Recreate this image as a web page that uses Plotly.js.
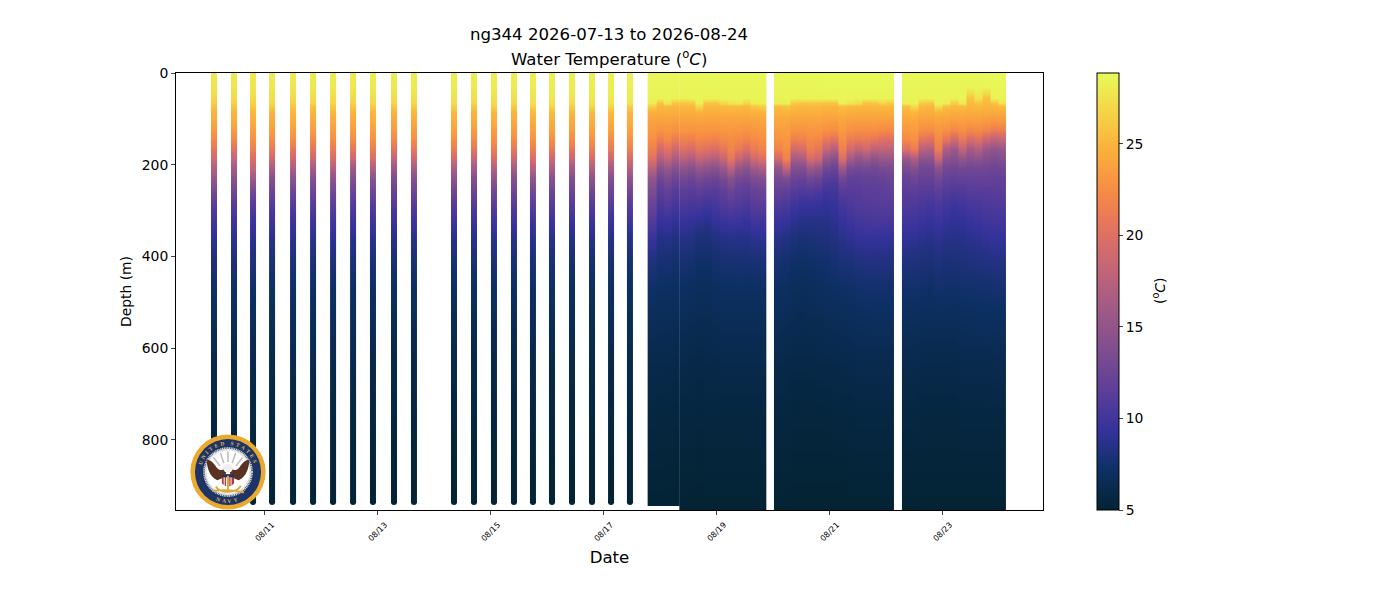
<!DOCTYPE html>
<html>
<head>
<meta charset="utf-8">
<script src="https://cdn.plot.ly/plotly-3.0.1.min.js"></script>
<style>html,body{margin:0;padding:0;background:#fff}#chart{width:1400px;height:600px}</style>
</head>
<body>
<div id="chart"></div>
<script>
const titleLine1 = "ng344 2026-07-13 to 2026-08-24";
const titleLine2 = "Water Temperature (<sup>o</sup><i>C</i>)";
const colorbarTitle = "(<sup>o</sup><i>C</i>)";
const thermal = ["rgb(3,35,51)","rgb(13,48,100)","rgb(53,50,155)","rgb(93,62,153)","rgb(126,77,143)","rgb(158,89,135)","rgb(193,100,121)","rgb(225,113,97)","rgb(246,139,69)","rgb(251,173,60)","rgb(246,211,70)","rgb(231,250,90)"];

const depthsUpper = [0,30,55,65,72,85,105,125,145,165,185,205,230,255,285,320,360,410,470,540,630,740,860];
const sparseEnd = [930,936];
const shallowEnd = [930,940];
const deepEnd = [940,950];

const sparseTimes = ["2026-08-10 02:20","2026-08-10 10:50","2026-08-10 18:55","2026-08-11 03:00","2026-08-11 11:55","2026-08-11 20:25","2026-08-12 04:55","2026-08-12 13:25","2026-08-12 21:52","2026-08-13 06:48","2026-08-13 15:17","2026-08-14 08:17","2026-08-14 16:47","2026-08-15 01:16","2026-08-15 09:46","2026-08-15 17:50","2026-08-16 01:55","2026-08-16 10:25","2026-08-16 18:55","2026-08-17 03:00","2026-08-17 11:02"];
const sparseTemps = [
[27.9,27.6,26.8,26.2,25.6,24.9,24.3,23.3,22.2,20.6,19.0,17.2,15.4,13.4,11.4,10.0,8.9,8.0,7.3,6.7,6.1,5.7,5.3,5.1,5.1],
[28.0,27.7,27.0,26.5,25.9,25.0,24.4,23.3,22.1,20.2,18.4,16.4,14.6,12.9,11.2,9.9,8.9,8.0,7.3,6.7,6.1,5.7,5.3,5.1,5.1],
[27.9,27.7,27.1,26.6,26.0,25.1,24.5,23.6,22.7,21.4,19.8,18.2,15.8,13.2,11.1,9.8,8.8,8.0,7.2,6.6,6.1,5.7,5.3,5.1,5.1],
[28.1,27.8,27.3,26.9,26.2,24.9,24.2,23.5,22.4,20.9,19.0,16.6,14.4,12.6,11.0,9.8,8.7,7.9,7.2,6.6,6.1,5.6,5.3,5.1,5.1],
[28.0,27.7,27.0,26.4,25.8,25.0,24.4,23.6,22.5,20.7,18.8,16.8,14.6,12.8,11.1,9.8,8.8,7.9,7.2,6.6,6.1,5.6,5.2,5.1,5.1],
[28.1,27.8,27.2,26.8,25.7,24.9,24.2,23.4,22.2,20.5,18.7,16.4,14.2,12.6,11.2,9.9,8.8,7.9,7.2,6.6,6.1,5.6,5.2,5.1,5.1],
[28.1,27.8,27.2,26.9,26.1,25.1,24.4,23.5,22.6,21.0,19.4,17.3,14.8,13.0,11.4,10.0,8.9,8.0,7.2,6.6,6.1,5.6,5.3,5.1,5.1],
[28.0,27.8,27.1,26.6,25.9,24.9,24.2,23.4,22.4,20.7,18.6,16.0,14.0,12.5,11.0,9.8,8.7,7.9,7.1,6.6,6.1,5.6,5.2,5.1,5.1],
[28.2,27.9,27.3,26.9,26.2,25.0,24.4,23.6,22.7,21.2,19.6,17.1,14.6,12.8,11.1,9.9,8.7,7.8,7.1,6.5,6.0,5.6,5.2,5.1,5.1],
[28.1,27.8,27.2,26.8,26.0,24.9,24.1,23.3,22.2,20.3,18.2,15.8,13.8,12.4,11.0,9.7,8.6,7.8,7.1,6.5,6.0,5.6,5.2,5.1,5.1],
[28.2,27.9,27.4,27.0,26.3,25.1,24.4,23.5,22.4,20.8,18.8,16.5,14.3,12.6,11.1,9.8,8.6,7.8,7.1,6.5,6.0,5.6,5.2,5.1,5.1],
[28.2,28.0,27.5,27.1,26.5,25.1,24.5,23.7,22.6,21.1,19.2,17.0,14.7,12.9,11.2,9.8,8.6,7.8,7.1,6.5,6.0,5.6,5.2,5.1,5.1],
[28.1,27.9,27.3,26.8,26.1,24.9,24.3,23.4,22.3,20.6,18.6,16.2,14.1,12.6,11.1,9.7,8.6,7.8,7.1,6.5,6.0,5.6,5.2,5.1,5.1],
[28.2,28.0,27.5,27.1,26.6,25.2,24.5,23.6,22.7,21.3,19.5,17.4,14.9,13.0,11.3,9.9,8.7,7.9,7.1,6.5,6.0,5.6,5.2,5.1,5.1],
[28.2,28.0,27.4,26.9,26.2,25.0,24.3,23.4,22.4,20.7,18.7,16.4,14.2,12.7,11.1,9.8,8.6,7.8,7.1,6.5,6.0,5.6,5.2,5.1,5.1],
[28.3,28.0,27.6,27.3,26.7,25.2,24.5,23.7,22.8,21.4,19.7,17.6,15.0,13.1,11.3,9.9,8.6,7.8,7.1,6.5,6.0,5.6,5.2,5.1,5.1],
[28.3,28.1,27.7,27.4,26.8,25.3,24.6,23.7,22.6,21.0,19.0,16.8,14.5,12.8,11.2,9.8,8.6,7.8,7.1,6.5,6.0,5.6,5.2,5.1,5.1],
[28.3,28.1,27.7,27.2,26.5,25.1,24.4,23.5,22.4,20.7,18.7,16.3,14.1,12.6,11.1,9.7,8.5,7.7,7.0,6.5,6.0,5.6,5.2,5.1,5.1],
[28.3,28.1,27.8,27.5,26.9,25.3,24.6,23.8,22.8,21.3,19.4,17.2,14.7,12.9,11.2,9.8,8.6,7.7,7.0,6.5,6.0,5.6,5.2,5.1,5.1],
[28.4,28.2,27.9,27.6,26.9,25.2,24.5,23.6,22.5,20.9,18.8,16.5,14.2,12.6,11.1,9.7,8.5,7.7,7.0,6.5,6.0,5.6,5.2,5.1,5.1],
[28.4,28.3,28.0,27.7,26.5,25.1,24.6,23.8,22.8,21.4,19.6,17.4,14.8,12.9,11.2,9.8,8.5,7.7,7.0,6.5,6.0,5.6,5.2,5.1,5.1]
];

const blockATimes = ["2026-08-17 20:24","2026-08-17 23:44","2026-08-18 03:04","2026-08-18 06:24","2026-08-18 09:44","2026-08-18 13:04","2026-08-18 16:24","2026-08-18 19:44","2026-08-18 23:04","2026-08-19 02:24","2026-08-19 05:44","2026-08-19 09:04","2026-08-19 12:24","2026-08-19 15:44","2026-08-19 19:04"];
const blockATemps = [
[28.6,28.6,28.4,28.2,26.4,24.7,23.8,23.3,22.6,21.5,20.2,17.8,15.0,13.6,12.3,11.0,9.5,8.2,7.3,6.7,6.1,5.7,5.3,5.1,5.05],
[28.6,28.6,28.4,25.8,25.1,24.6,23.7,22.9,21.3,19.1,17.0,14.6,12.6,11.4,10.4,9.4,8.4,7.7,7.1,6.6,6.1,5.6,5.3,5.1,5.05],
[28.6,28.6,28.5,27.8,25.3,24.7,23.8,23.1,22.1,20.3,18.2,15.6,13.4,12.0,10.9,9.6,8.6,7.7,7.1,6.6,6.1,5.6,5.3,5.1,5.05],
[28.6,28.6,28.4,25.7,25.1,24.5,23.6,22.8,21.1,18.9,16.6,14.4,12.5,11.3,10.2,9.2,8.2,7.5,7.0,6.5,6.0,5.5,5.2,5.1,5.05],
[28.7,28.6,28.4,25.8,25.2,24.6,23.7,23.0,21.7,19.9,17.6,15.0,12.9,11.6,10.6,9.5,8.5,7.7,7.1,6.6,6.1,5.6,5.3,5.1,5.05],
[28.7,28.6,28.5,26.0,25.2,24.6,23.7,22.9,21.5,19.3,17.0,14.4,12.5,11.3,10.3,9.3,8.4,7.6,7.0,6.5,6.0,5.6,5.3,5.1,5.05],
[28.7,28.6,28.5,28.3,27.0,24.8,23.8,23.1,22.1,20.5,18.4,15.6,13.2,11.7,10.4,9.0,8.0,7.3,6.8,6.4,5.9,5.5,5.2,5.1,5.05],
[28.7,28.6,28.4,25.9,25.2,24.6,23.7,23.0,21.9,20.1,17.8,15.0,12.7,11.3,10.0,8.8,7.9,7.3,6.8,6.4,6.0,5.6,5.3,5.1,5.05],
[28.7,28.6,28.4,25.8,25.2,24.6,23.7,22.9,21.6,19.7,17.2,14.6,12.5,11.2,10.3,9.3,8.3,7.5,7.0,6.5,6.0,5.6,5.3,5.1,5.05],
[28.7,28.6,28.5,27.0,25.3,24.7,23.8,23.1,22.2,20.7,18.6,15.8,13.2,11.8,10.8,9.6,8.5,7.7,7.1,6.6,6.1,5.6,5.3,5.1,5.05],
[28.7,28.6,28.5,27.6,25.4,24.7,23.8,23.2,22.5,21.7,20.8,18.0,14.4,12.5,11.2,9.8,8.6,7.7,7.1,6.6,6.1,5.6,5.3,5.1,5.05],
[28.7,28.6,28.5,28.0,25.4,24.7,23.8,23.1,22.2,20.9,18.6,15.4,13.1,11.8,10.9,9.7,8.6,7.8,7.1,6.6,6.1,5.6,5.3,5.1,5.05],
[28.7,28.6,28.5,26.8,25.3,24.6,23.7,22.9,21.7,19.9,17.4,14.8,12.8,11.6,10.6,9.5,8.5,7.7,7.1,6.6,6.1,5.6,5.3,5.1,5.05],
[28.7,28.6,28.5,28.1,26.0,24.8,23.8,23.1,22.3,21.1,19.2,16.2,13.6,12.2,11.2,10.0,8.8,7.8,7.1,6.6,6.1,5.6,5.3,5.1,5.05],
[28.7,28.6,28.5,28.2,26.4,24.8,23.9,23.3,22.6,21.7,20.0,17.0,14.0,12.4,11.4,10.0,8.9,7.9,7.2,6.6,6.1,5.6,5.3,5.1,5.05]
];

const blockBTimes = ["2026-08-20 01:55","2026-08-20 05:19","2026-08-20 08:43","2026-08-20 12:07","2026-08-20 15:31","2026-08-20 18:55","2026-08-20 22:19","2026-08-21 01:43","2026-08-21 05:07","2026-08-21 08:31","2026-08-21 11:55","2026-08-21 15:19","2026-08-21 18:43","2026-08-21 22:07","2026-08-22 01:31"];
const blockBTemps = [
[28.7,28.6,28.4,28.2,25.5,24.8,24.0,23.5,22.8,21.7,19.2,15.4,13.2,12.0,10.8,9.6,8.6,7.7,7.1,6.6,6.1,5.6,5.3,5.1,5.05],
[28.7,28.6,28.5,28.3,25.8,24.9,24.1,23.6,23.1,22.5,21.8,18.4,13.6,11.8,10.6,9.4,8.3,7.5,7.0,6.5,6.0,5.6,5.3,5.1,5.05],
[28.7,28.6,28.4,26.2,25.3,24.7,23.8,22.9,21.5,19.1,16.4,14.0,12.4,11.2,9.9,8.9,8.0,7.3,6.8,6.4,5.9,5.5,5.2,5.1,5.05],
[28.7,28.6,28.4,25.8,25.2,24.6,23.7,22.9,21.7,19.5,16.8,14.0,12.2,10.8,9.5,8.6,7.8,7.2,6.7,6.3,5.9,5.5,5.2,5.1,5.05],
[28.7,28.6,28.5,25.9,25.3,24.7,23.8,23.1,22.3,21.3,19.6,15.8,12.9,11.0,9.5,8.6,7.9,7.3,6.8,6.4,5.9,5.5,5.2,5.1,5.05],
[28.7,28.7,28.5,25.9,25.3,24.7,23.8,23.1,22.1,20.7,18.8,15.2,12.4,10.7,9.4,8.6,8.0,7.4,6.9,6.4,6.0,5.5,5.2,5.1,5.05],
[28.8,28.7,28.5,25.8,25.1,24.5,23.6,22.7,20.9,18.3,15.4,13.0,11.2,10.0,9.2,8.6,8.1,7.5,7.0,6.5,6.0,5.5,5.2,5.1,5.05],
[28.8,28.7,28.5,25.8,25.1,24.5,23.5,22.5,20.3,17.1,14.4,12.4,11.0,10.1,9.4,8.9,8.3,7.7,7.1,6.6,6.0,5.6,5.2,5.1,5.05],
[28.8,28.7,28.6,28.4,25.5,24.8,23.9,23.3,22.5,21.5,20.0,16.0,12.8,11.2,10.2,9.4,8.7,7.9,7.2,6.6,6.1,5.6,5.2,5.1,5.05],
[28.8,28.7,28.5,27.8,25.3,24.6,23.6,22.7,21.3,19.1,16.2,13.4,11.8,11.1,10.6,9.8,8.9,8.0,7.3,6.7,6.1,5.6,5.3,5.1,5.05],
[28.8,28.7,28.5,27.4,25.2,24.5,23.5,22.5,20.9,18.1,15.0,13.0,11.8,11.2,10.9,10.2,9.2,8.2,7.4,6.8,6.2,5.7,5.3,5.1,5.05],
[28.8,28.7,28.5,25.8,25.1,24.5,23.5,22.5,21.1,18.9,15.8,13.2,12.0,11.4,11.0,10.3,9.3,8.3,7.5,6.8,6.2,5.7,5.3,5.1,5.05],
[28.8,28.7,28.5,25.9,25.2,24.5,23.6,22.6,20.7,17.7,14.8,13.0,12.0,11.5,11.1,10.4,9.4,8.3,7.5,6.9,6.2,5.7,5.3,5.1,5.05],
[28.8,28.7,28.5,26.8,25.2,24.5,23.5,22.3,20.1,17.9,15.6,13.4,12.2,11.6,11.2,10.4,9.3,8.3,7.5,6.9,6.2,5.7,5.3,5.1,5.05],
[28.8,28.7,28.5,26.2,25.2,24.5,23.4,22.1,19.9,17.7,15.6,13.6,12.4,11.8,11.2,10.4,9.2,8.2,7.4,6.8,6.2,5.7,5.3,5.1,5.05]
];

const blockCTimes = ["2026-08-22 08:17","2026-08-22 11:41","2026-08-22 15:05","2026-08-22 18:29","2026-08-22 21:53","2026-08-23 01:17","2026-08-23 04:41","2026-08-23 08:05","2026-08-23 11:29","2026-08-23 14:53","2026-08-23 18:17","2026-08-23 21:41","2026-08-24 01:05"];
const blockCTemps = [
[28.7,28.6,28.5,28.3,25.7,24.8,23.9,23.2,22.3,19.9,15.6,13.6,12.2,11.4,10.8,10.0,9.1,8.2,7.4,6.8,6.2,5.7,5.3,5.1,5.05],
[28.7,28.6,28.5,28.4,27.2,25.0,24.1,23.4,22.7,21.1,17.0,14.2,12.6,11.5,10.7,9.9,9.0,8.1,7.4,6.8,6.2,5.7,5.3,5.1,5.05],
[28.7,28.6,28.4,26.2,25.3,24.6,23.6,22.5,20.5,17.5,14.8,13.0,12.0,11.2,10.4,9.6,8.8,8.0,7.3,6.7,6.1,5.6,5.3,5.1,5.05],
[28.7,28.6,28.4,25.8,25.1,24.5,23.5,22.4,20.1,17.1,14.8,13.0,12.0,11.1,10.2,9.4,8.6,7.9,7.2,6.7,6.1,5.6,5.3,5.1,5.05],
[28.7,28.6,28.5,28.4,27.4,24.9,23.8,23.1,22.3,21.3,18.6,14.8,12.9,11.6,10.6,9.7,8.9,8.1,7.4,6.7,6.1,5.6,5.3,5.1,5.05],
[28.7,28.6,28.5,28.2,25.6,24.7,23.7,22.7,20.7,16.7,14.6,13.0,12.0,11.0,10.1,9.3,8.6,7.9,7.3,6.7,6.1,5.6,5.3,5.1,5.05],
[28.7,28.6,28.4,26.4,25.3,24.5,23.4,22.1,19.1,15.7,14.2,12.8,11.8,10.8,9.8,9.1,8.5,7.9,7.3,6.7,6.1,5.6,5.3,5.1,5.05],
[28.7,28.6,28.5,28.0,25.4,24.6,23.6,22.6,20.9,18.1,15.2,13.2,11.9,10.9,10.0,9.2,8.6,8.0,7.4,6.8,6.2,5.7,5.3,5.1,5.05],
[28.7,28.5,25.9,25.4,25.1,24.5,23.4,22.1,19.5,16.1,14.4,12.9,12.0,11.2,10.3,9.5,8.8,8.1,7.4,6.8,6.2,5.7,5.3,5.1,5.05],
[28.7,28.5,27.6,25.7,25.2,24.5,23.5,22.3,20.1,17.1,14.8,13.0,12.0,11.2,10.4,9.7,8.9,8.2,7.5,6.9,6.2,5.7,5.3,5.1,5.05],
[28.8,28.6,25.6,25.2,25.0,24.4,23.2,21.9,18.7,15.5,14.0,12.9,12.0,11.3,10.6,9.9,9.1,8.3,7.5,6.9,6.2,5.7,5.3,5.1,5.05],
[28.8,28.6,28.4,25.7,25.1,24.3,23.0,21.1,17.9,14.9,13.6,12.6,11.9,11.3,10.7,10.0,9.3,8.4,7.6,6.9,6.3,5.7,5.3,5.1,5.05],
[28.8,28.6,28.5,27.6,25.3,24.4,23.2,21.3,18.3,15.3,14.0,12.8,12.0,11.4,10.8,10.1,9.3,8.4,7.6,6.9,6.3,5.7,5.3,5.1,5.05]
];

const seal = `<svg xmlns="http://www.w3.org/2000/svg" xmlns:xlink="http://www.w3.org/1999/xlink" viewBox="0 0 200 200">
<circle cx="100" cy="100" r="99" fill="#eaa92f"/><circle cx="100" cy="100" r="87" fill="#1c3566"/>
<circle cx="100" cy="100" r="61" fill="#fff" stroke="#cfcfcf" stroke-width="9" stroke-dasharray="3 1.5"/>
<defs><path id="a" d="M29 100A71 71 0 0 1 171 100"/><path id="b" d="M19 100A81 81 0 0 0 181 100"/></defs>
<text font-family="Liberation Serif" font-weight="bold" font-size="14" fill="#e6b54a" letter-spacing="6"><textPath xlink:href="#a" href="#a" startOffset="50%" text-anchor="middle">UNITED    STATES</textPath></text>
<text font-family="Liberation Serif" font-weight="bold" font-size="14" fill="#e6b54a" letter-spacing="7"><textPath xlink:href="#b" href="#b" startOffset="50%" text-anchor="middle">NAVY</textPath></text>
<g stroke="#bdbdbd" stroke-width="4"><path d="M100 46V74M80 50L89 76M120 50L111 76M62 62L79 84M138 62L121 84"/></g>
<path d="M98 86C90 88 84 104 70 88C62 76 54 68 44 68C44 88 52 114 72 122L86 116L94 106Z" fill="#5a3222"/>
<path d="M102 86C110 88 116 104 130 88C138 76 146 68 156 68C156 88 148 114 128 122L114 116L106 106Z" fill="#5a3222"/>
<ellipse cx="100" cy="90" rx="13" ry="11" fill="#efefef"/>
<path d="M84 106H116V130Q100 146 84 130Z" fill="#b33a3a"/><path d="M84 106H116V114H84Z" fill="#1c3566"/><path d="M90 114V136M96 114V140M102 114V140M108 114V136" stroke="#fff" stroke-width="2.5"/>
<path d="M100 110V152M68 138Q76 152 100 152Q124 152 134 136M60 150Q100 144 142 154" fill="none" stroke="#d9a93c" stroke-width="5"/>
</svg>`;

const tColor = {colorscale: thermal.map((c, i) => [i / (thermal.length - 1), c]), zmin: 5, zmax: 28.87};
const HOUR = 3600000;
const plotW = 867, plotH = 437, plotL = 176, plotB = 510;

// Each profile is held flat across its own cell; the library smooths only with depth and across the thin seams.
function cellEdges(times, halfCell) {
  const inner = halfCell * 0.82;
  const outer = times.length === 1 ? halfCell / 2 : (halfCell - 0.5 * inner) / 1.5;
  const xs = [];
  times.forEach((t, i) => {
    const ms = new Date(t.replace(" ", "T") + "Z").getTime();
    const a = i === 0 ? outer : inner;
    const b = i === times.length - 1 ? outer : inner;
    xs.push(new Date(ms - a * HOUR).toISOString(), new Date(ms + b * HOUR).toISOString());
  });
  return xs;
}
function heatTrace(times, temps, depths, halfCell) {
  const xs = cellEdges(times, halfCell);
  const z = depths.map((_, d) => temps.flatMap(row => [row[d], row[d]]));
  return Object.assign({type: "heatmap", x: xs, y: depths, z: z, zsmooth: "best", showscale: false, hoverinfo: "skip"}, tColor);
}

const traces = [];
traces.push(heatTrace(blockATimes.slice(0, 4), blockATemps.slice(0, 4), depthsUpper.concat(shallowEnd), 1.85));
traces.push(heatTrace(blockATimes.slice(4), blockATemps.slice(4), depthsUpper.concat(deepEnd), 1.72));
sparseTimes.forEach((t, i) => {
  traces.push(heatTrace([t], [sparseTemps[i]], depthsUpper.concat(sparseEnd), 1.27));
});
traces.push(heatTrace(blockBTimes, blockBTemps, depthsUpper.concat(deepEnd), 1.7));
const last = heatTrace(blockCTimes, blockCTemps, depthsUpper.concat(deepEnd), 1.7);
last.showscale = true;
last.colorbar = {
  x: (1097 - plotL) / plotW, xanchor: "left", xpad: 0, ypad: 0, y: 0.5, yanchor: "middle", len: 1, thickness: 22,
  outlinewidth: 1, outlinecolor: "#000", tick0: 5, dtick: 5, ticks: "outside", ticklen: 4, tickwidth: 1,
  tickfont: {family: "DejaVu Sans", size: 13.9, color: "#000"}
};
traces.push(last);
traces.push({
  type: "scatter", mode: "markers", x: sparseTimes, y: sparseTimes.map(() => sparseEnd[1]),
  marker: {size: 6, color: sparseTemps.map(r => r[r.length - 1]), colorscale: tColor.colorscale, cmin: tColor.zmin, cmax: tColor.zmax},
  hoverinfo: "skip", showlegend: false
});

const layout = {
  width: 1400, height: 600, showlegend: false, paper_bgcolor: "#fff", plot_bgcolor: "#fff",
  margin: {l: plotL, r: 357, t: 73, b: 90, pad: 0},
  font: {family: "DejaVu Sans", color: "#000"},
  title: {text: titleLine1, xref: "container", yref: "container", x: 609 / 1400, xanchor: "center", y: 1 - 34 / 600, yanchor: "middle", font: {family: "DejaVu Sans", size: 16.6, color: "#000"}},
  annotations: [
    {text: titleLine2, xref: "paper", yref: "paper", x: (609 - plotL) / plotW, y: (plotB - 58) / plotH, xanchor: "center", yanchor: "middle", showarrow: false, font: {family: "DejaVu Sans", size: 16.6, color: "#000"}},
    {text: colorbarTitle, xref: "paper", yref: "paper", x: (1159 - plotL) / plotW, y: (plotB - 291) / plotH, xanchor: "center", yanchor: "middle", textangle: -90, showarrow: false, font: {family: "DejaVu Sans", size: 13.9, color: "#000"}}
  ],
  xaxis: {
    type: "date", range: ["2026-08-09 10:12", "2026-08-24 18:30"], tick0: "2026-08-11", dtick: 172800000, tickformat: "%m/%d",
    tickangle: -45, tickfont: {family: "DejaVu Sans", size: 8, color: "#000"}, ticks: "outside", ticklen: 4, tickwidth: 1,
    ticklabelshift: 7, ticklabelstandoff: 2,
    showgrid: false, zeroline: false, showline: true, linecolor: "#000", linewidth: 1, mirror: true,
    title: {text: "Date", standoff: 9, font: {family: "DejaVu Sans", size: 16.6, color: "#000"}}
  },
  yaxis: {
    range: [953.2, 0], tick0: 0, dtick: 200, tickfont: {family: "DejaVu Sans", size: 13.9, color: "#000"}, ticks: "outside", ticklen: 4, tickwidth: 1,
    showgrid: false, zeroline: false, showline: true, linecolor: "#000", linewidth: 1, mirror: true,
    title: {text: "Depth (m)", standoff: 6, font: {family: "DejaVu Sans", size: 13.9, color: "#000"}}
  },
  images: [{
    source: "data:image/svg+xml;charset=utf-8," + encodeURIComponent(seal), xref: "paper", yref: "paper",
    x: (190 - plotL) / plotW, y: (plotB - 434) / plotH, sizex: 76 / plotW, sizey: 76 / plotH, sizing: "stretch", xanchor: "left", yanchor: "top", layer: "above"
  }]
};
Plotly.newPlot("chart", traces, layout, {displayModeBar: false, responsive: false});
</script>
</body>
</html>
